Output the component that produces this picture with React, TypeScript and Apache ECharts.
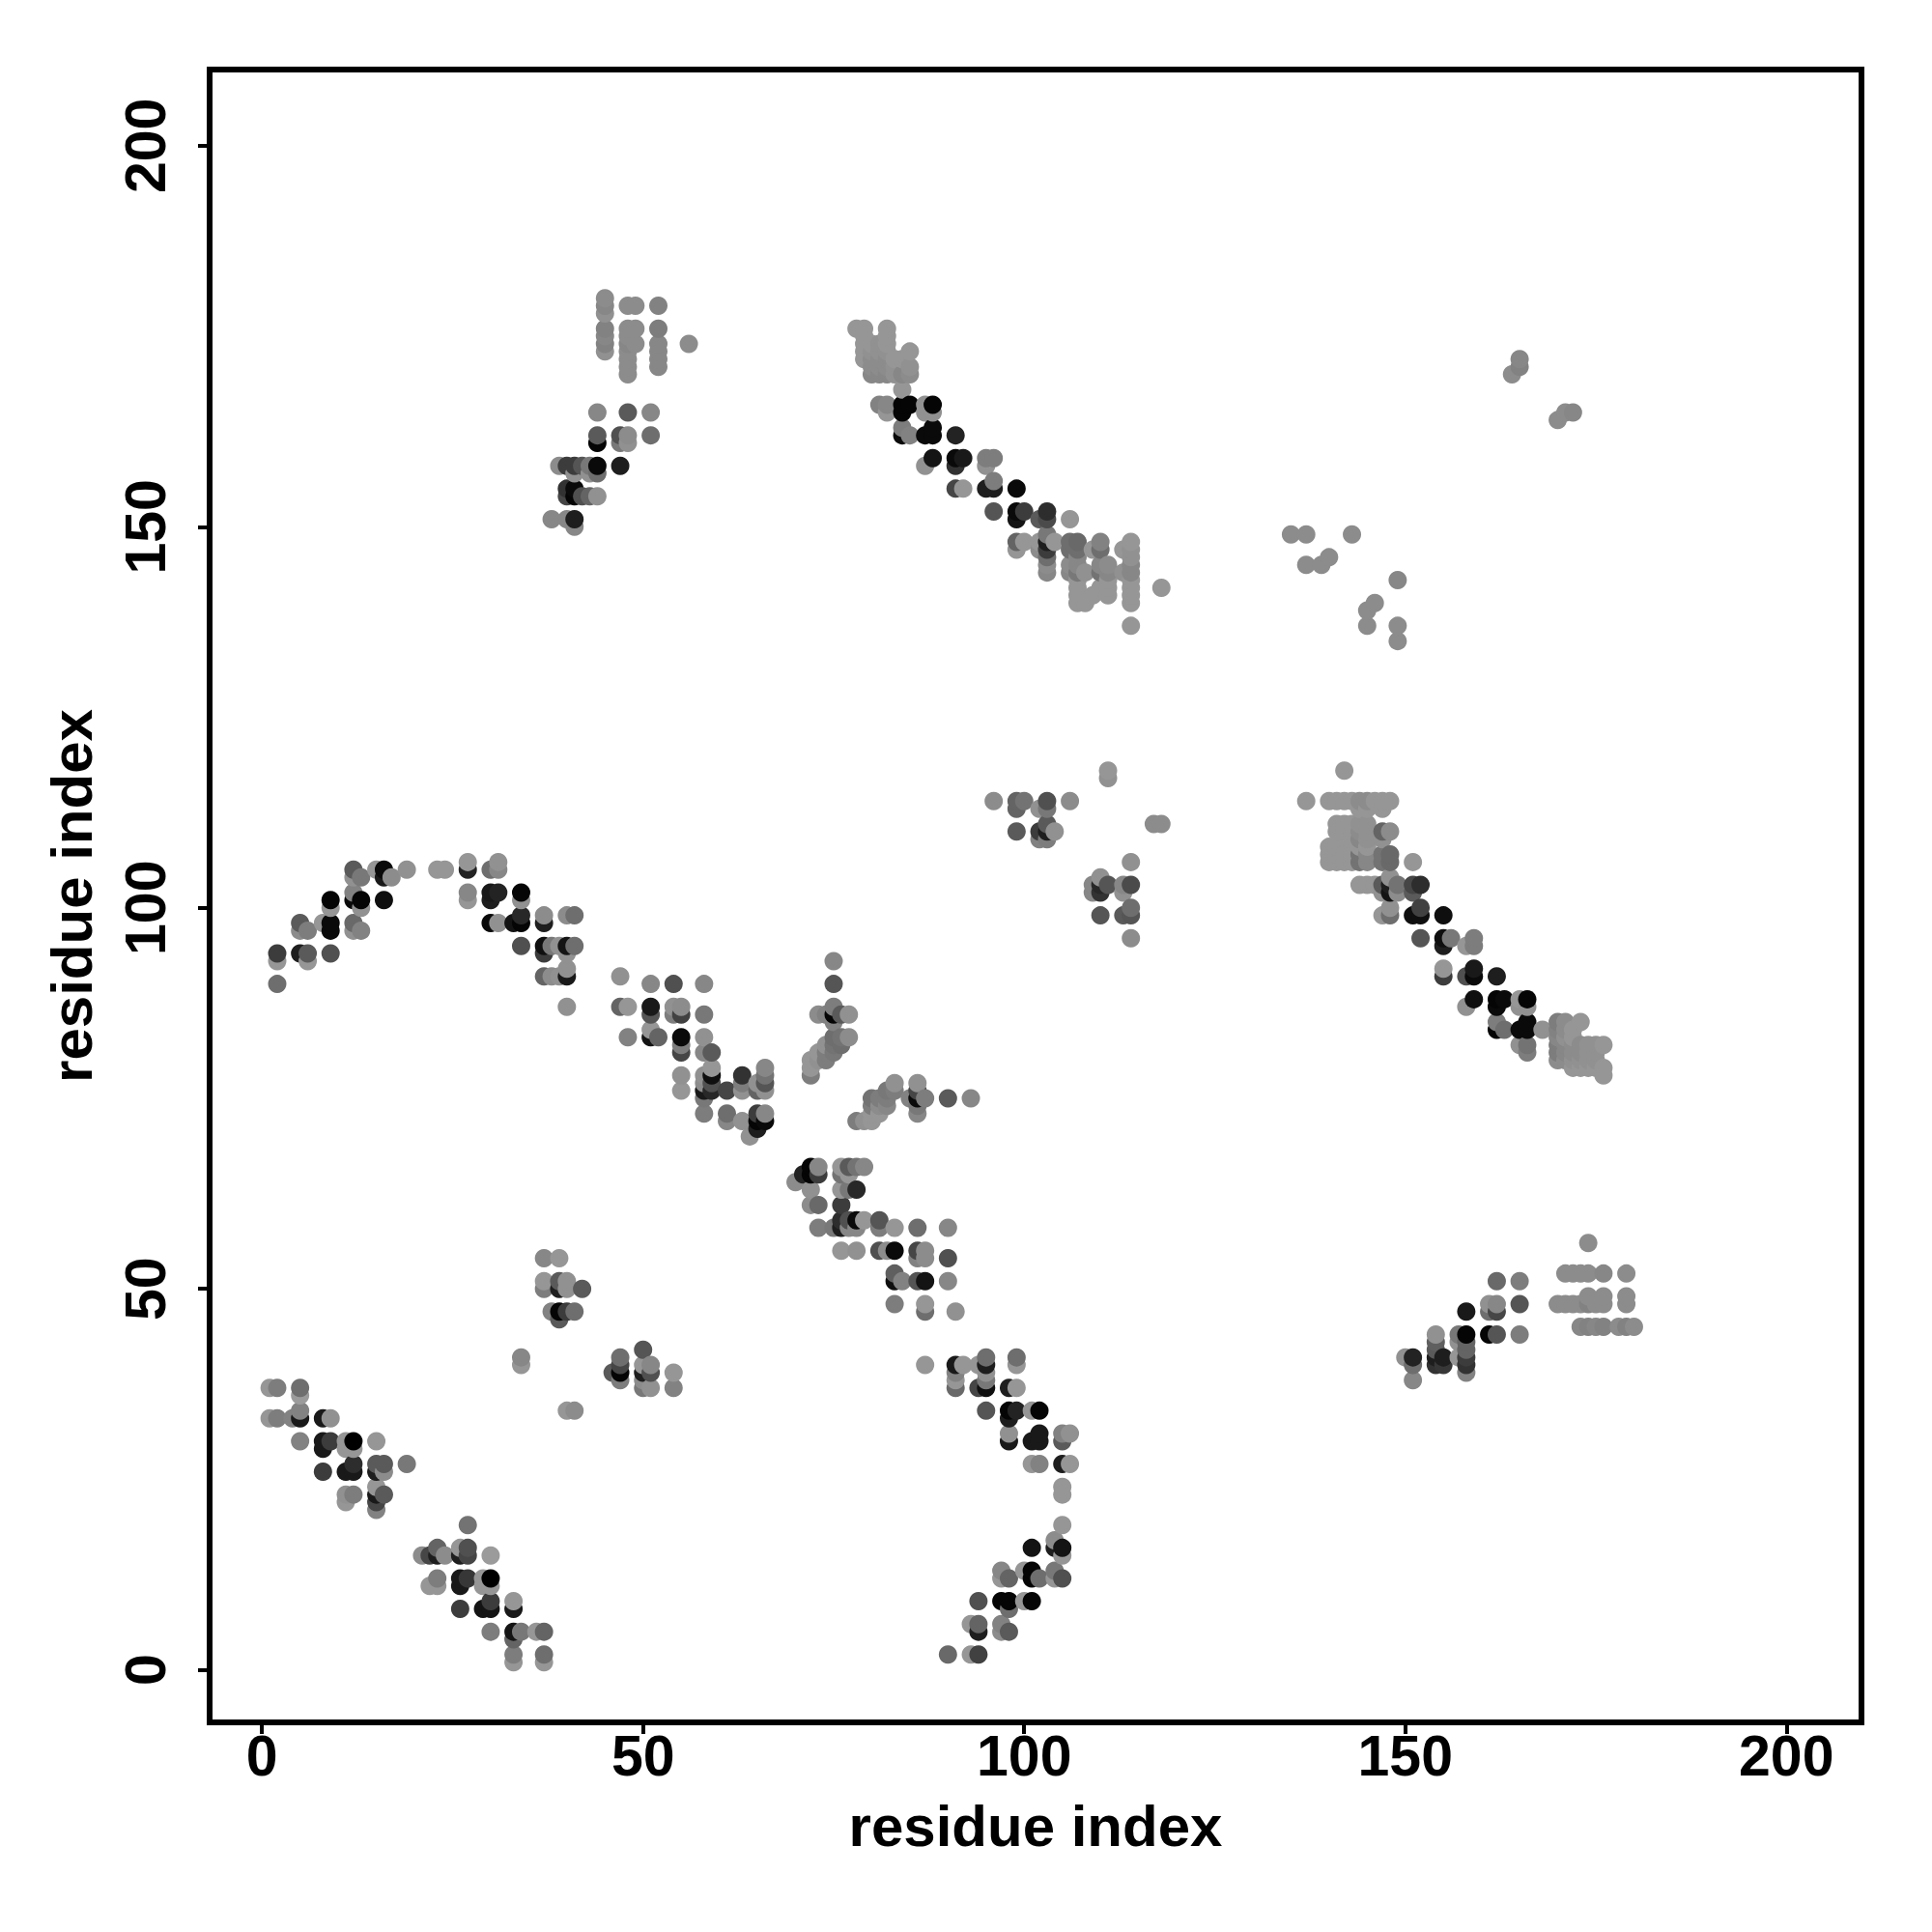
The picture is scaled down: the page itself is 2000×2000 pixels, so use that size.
import React, { useEffect, useRef } from "react";
import * as echarts from "echarts";

type P = [number, number, number];

const xTickValues = [0, 50, 100, 150, 200];
const yTickValues = [0, 50, 100, 150, 200];
const axisTitle = "residue index";

const helixA: P[] = [
[1,37,150],[2,37,125],[5,37,110],[5,36,155],[1,33,150],[2,33,125],[4,33,130],[5,33,25],[5,34,130],[8,33,25],[9,33,145],
[5,30,130],[8,30,25],[8,29,25],[9,30,60],[11,30,150],[11,29,150],[12,30,0],[12,29,150],[15,30,150],[8,26,60],[11,26,25],[12,26,25],[12,27,45],
[15,27,90],[15,26,30],[16,27,90],[16,26,140],[19,27,120],[11,23,145],[11,22,150],[12,23,125],[15,24,150],[15,23,25],[15,22,70],[15,21,130],[16,23,90],
[27,19,115],[21,15,140],[22,15,70],[23,15,30],[23,16,100],[24,15,140],[26,16,150],[26,15,30],[27,16,80],[27,15,70],[30,15,155],
[22,11,150],[23,11,150],[23,12,125],[26,12,25],[26,11,25],[27,12,55],[29,12,150],[29,11,150],[30,12,0],[30,11,150],
[26,8,60],[29,8,20],[30,8,20],[30,9,60],[33,9,150],[33,8,25],[30,5,125],[33,5,20],[33,4,100],[34,5,120],[36,5,150],[37,5,100],
[33,2,125],[33,1,150],[37,2,110],[37,1,150],
];
const patchB: P[] = [
[37,54,135],[39,54,150],[37,51,150],[37,50,125],[39,51,90],[39,50,30],[40,51,145],[40,50,145],[42,50,90],
[38,47,130],[39,47,5],[40,47,60],[41,47,110],[39,46,90],[34,41,135],[34,40,150],[40,34,150],[41,34,140],
[46,39,90],[47,41,110],[47,40,70],[47,39,5],[47,38,125],[50,42,85],[50,40,150],[50,39,30],[50,38,140],[50,37,120],
[51,40,135],[51,39,80],[51,37,145],[54,39,150],[54,37,130],
];
const curveC: P[] = [
[87,40,150],[91,40,25],[92,40,150],[91,39,130],[91,38,150],[91,37,105],[94,40,150],[95,41,110],[95,40,30],[95,39,145],[95,38,120],[94,37,70],[95,37,15],
[99,41,110],[99,40,150],[98,37,30],[99,37,150],[95,34,85],[98,34,5],[98,33,30],[99,34,35],[101,34,150],[102,34,5],
[98,31,145],[98,30,25],[101,30,25],[102,31,25],[102,30,25],[105,31,130],[105,30,90],[106,31,145],
[101,27,150],[102,27,130],[105,27,30],[106,27,150],[105,24,150],[105,23,150],[105,19,150],
[101,16,20],[104,17,140],[104,16,30],[105,16,20],[105,15,150],[97,13,135],[97,12,150],[98,12,100],[100,13,150],[101,13,5],[101,12,5],[102,12,110],
[104,13,120],[104,12,150],[105,12,80],[94,9,80],[97,9,5],[98,9,5],[98,8,110],[100,9,150],[101,9,5],
[93,6,150],[94,6,100],[94,5,30],[97,6,130],[97,5,140],[98,5,90],[90,2,105],[93,2,150],[94,2,65],
];
const stripD: P[] = [
[70,64,140],[71,65,35],[72,66,5],[72,65,5],[73,66,135],[73,65,60],[72,63,145],[72,61,140],[73,61,105],
[76,66,150],[76,65,115],[77,66,90],[77,65,150],[78,66,115],[79,66,135],[76,63,150],[77,63,120],[78,63,40],[76,61,60],
[73,58,125],[75,58,120],[76,59,45],[76,58,30],[77,59,80],[77,58,135],[78,59,10],[78,58,135],[79,59,150],
[81,59,85],[81,58,125],[83,58,150],[86,58,110],[90,58,135],[76,55,150],[78,55,145],[81,55,80],[82,55,140],[83,55,10],
[86,55,70],[86,54,130],[87,55,140],[87,54,140],[90,54,80],[83,52,95],[83,51,15],[84,51,130],[86,51,85],[87,51,20],[90,51,135],
[83,48,125],[87,48,150],[87,47,110],[91,47,145],
];
const stripE: P[] = [
[47,91,145],[51,90,135],[54,90,80],[58,90,135],[47,87,100],[48,87,150],[51,87,25],[51,86,85],[54,87,145],[54,86,125],[55,87,140],[55,86,65],[58,86,120],
[48,83,130],[51,84,150],[51,83,20],[52,83,100],[55,83,10],[55,82,125],[55,81,70],[58,83,145],[58,81,135],[59,81,90],
[55,78,145],[55,76,150],[58,78,145],[58,77,140],[58,76,25],[58,75,120],[59,79,150],[59,78,15],[59,77,80],[59,76,40],[61,76,70],
[63,78,50],[63,77,125],[63,76,145],[65,77,145],[65,76,100],[66,79,135],[66,78,115],[66,77,85],[66,76,145],
[58,73,125],[61,73,110],[61,72,135],[63,72,145],[65,73,60],[65,72,5],[65,71,30],[66,73,135],[66,72,10],[64,70,145],
];
const armF: P[] = [
[75,93,135],[75,90,85],[75,87,125],[73,86,140],[74,86,130],[75,86,5],[76,86,90],[77,86,145],[75,85,130],
[77,83,140],[76,83,115],[75,83,110],[76,82,110],[75,82,115],[75,81,120],[74,82,145],[74,81,125],[74,80,125],[73,81,150],[73,80,145],
[72,80,150],[72,79,150],[72,78,125],
[83,77,145],[83,76,125],[82,76,120],[81,75,125],[82,75,125],[80,75,115],[80,74,125],[81,74,140],[82,74,135],[78,72,125],[79,72,145],[80,72,150],[80,73,150],[81,73,150],
[86,77,145],[86,76,70],[85,75,130],[86,75,10],[87,75,125],[86,74,120],[86,73,135],[90,75,90],[93,75,135],
];
const arcG: P[] = [
[2,90,110],[2,93,150],[2,94,60],[5,94,30],[6,94,90],[6,93,150],[9,94,80],[5,98,90],[5,97,140],[6,97,125],[8,98,150],[9,98,10],[9,97,10],
[12,98,105],[12,97,145],[13,97,130],[9,101,5],[9,100,150],[12,102,130],[12,101,10],[13,101,5],[13,100,145],[16,101,15],
[12,105,90],[12,104,145],[13,104,120],[15,105,150],[16,105,10],[16,104,25],[17,104,140],[19,105,145],[23,105,150],[24,105,150],
[27,106,150],[27,105,35],[27,102,135],[27,101,150],[30,105,110],[31,106,145],[31,105,135],[30,102,25],[30,101,30],[31,102,35],[34,102,5],[34,101,145],
[30,98,10],[31,98,145],[33,98,20],[34,98,5],[34,99,40],[37,99,140],[37,98,30],[40,99,140],[41,99,110],
[34,95,80],[37,95,15],[37,94,60],[38,95,120],[39,95,145],[40,95,20],[41,95,110],[40,94,145],
[37,91,100],[38,91,140],[39,91,145],[40,91,25],[40,92,145],[40,87,145],
];
const bandH: P[] = [
[142,118,150],[137,114,150],[140,114,150],[141,114,150],[142,114,150],[143,114,150],[144,114,140],[145,114,140],[146,114,150],[147,114,150],[148,114,150],
[144,113,150],[145,113,150],[147,113,150],[141,111,150],[142,111,150],[143,111,150],[144,111,145],[145,111,145],
[141,110,150],[142,110,150],[143,110,150],[144,110,140],[145,110,145],[147,110,100],[148,110,140],[143,109,150],[144,109,135],[145,109,145],[147,109,145],
[140,108,150],[141,108,150],[144,108,150],[145,108,150],[140,107,150],[141,107,150],[142,107,150],[143,107,150],[144,107,115],[145,107,135],[147,107,115],[148,107,105],
[140,106,150],[141,106,150],[142,106,150],[143,106,150],[144,106,115],[145,106,135],[147,106,115],[148,106,105],[151,106,150],
[144,103,150],[145,103,150],[146,103,150],[147,103,90],[148,104,145],[148,103,30],[149,103,115],[147,102,145],[148,102,20],[149,102,140],
[151,103,70],[151,102,90],[152,103,45],[147,99,150],[148,100,145],[148,99,110],[151,99,15],[152,100,65],[152,99,15],[155,99,15],
[152,96,85],[155,96,15],[155,95,30],[156,96,120],[158,95,150],[159,96,125],[159,95,125],[155,92,150],[155,91,60],[158,91,80],[159,92,25],[159,91,10],[162,91,30],
[158,87,145],[159,88,15],[162,88,5],[162,87,10],[163,88,10],[165,88,150],[165,87,145],[166,88,5],[166,87,145],
[162,85,125],[162,84,5],[163,84,110],[165,84,10],[166,85,10],[166,84,10],[168,84,145],[165,82,145],[166,82,115],[166,81,125],
[170,85,125],[171,85,140],[173,85,150],[170,84,130],[171,84,140],[172,84,150],[170,83,135],[171,83,145],[172,83,150],
[170,82,125],[171,82,135],[172,82,140],[173,82,140],[174,82,145],[175,82,145],[176,82,150],
[170,81,125],[171,81,135],[172,81,140],[173,81,140],[174,81,145],[175,81,145],[170,80,140],[171,80,140],[172,80,145],[173,80,145],[174,80,145],[175,80,145],
[172,79,150],[173,79,150],[174,79,150],[175,79,150],[176,79,150],[176,78,150],
];
const patchI: P[] = [
[150,41,145],[151,41,35],[151,40,110],[151,38,135],[154,44,145],[154,43,95],[154,42,90],[154,41,30],[154,40,50],[155,41,30],[155,40,55],
[157,44,120],[157,43,145],[157,41,150],[158,47,25],[158,44,5],[158,43,100],[158,42,100],[158,41,60],[158,40,50],[158,39,130],
[161,48,145],[161,47,110],[162,48,135],[162,47,70],[162,51,105],[165,51,125],[165,48,85],[161,44,5],[162,44,85],[165,44,125],
[174,56,140],[171,52,140],[172,52,140],[173,52,140],[174,52,140],[176,52,135],[179,52,140],[174,49,140],[176,49,140],[179,49,140],
[170,48,140],[171,48,140],[172,48,140],[173,48,140],[174,48,130],[175,48,140],[176,48,140],[179,48,140],
[173,45,135],[174,45,130],[175,45,135],[176,45,130],[178,45,140],[179,45,130],[180,45,140],
];
const bandJ: P[] = [
[78,176,150],[79,176,150],[82,176,150],[79,175,150],[82,175,150],[79,174,150],[80,174,150],[81,174,145],[82,174,150],[79,173,150],[80,173,145],[81,173,145],[82,173,145],[85,173,150],
[79,172,150],[80,172,140],[81,172,140],[82,172,140],[83,172,150],[84,172,150],[80,171,140],[81,171,140],[82,171,140],[83,171,145],[85,171,145],
[80,170,135],[81,170,135],[82,170,135],[83,170,145],[84,170,135],[85,170,140],[84,168,150],
[81,166,130],[82,166,135],[82,165,150],[84,166,5],[85,166,5],[84,165,5],[87,166,145],[87,165,145],[88,166,5],[88,165,145],
[84,163,125],[84,162,10],[85,162,130],[87,162,10],[88,163,10],[88,162,10],[91,162,35],
[87,158,145],[88,159,20],[91,159,10],[91,158,50],[92,159,25],[95,159,125],[95,158,145],[96,159,125],
[91,155,70],[92,155,150],[95,155,30],[96,155,30],[96,156,125],[99,155,10],[96,152,85],[99,152,10],[99,151,20],[100,152,60],[102,151,90],[103,152,45],[103,151,75],[106,151,150],
[99,148,100],[100,148,150],[99,147,150],[102,148,150],[103,149,120],[103,148,30],[103,147,60],[102,147,140],[104,148,150],[103,146,110],[103,145,140],[103,144,135],
[106,148,110],[107,148,105],[106,147,110],[107,147,110],[107,146,135],[110,148,130],[110,147,110],[109,147,150],[106,145,140],[106,144,135],[107,145,135],[107,144,120],
[107,143,150],[107,142,150],[107,141,150],[107,140,150],[108,140,150],[108,144,145],[109,141,150],[110,144,115],[110,145,135],[110,142,150],[111,145,140],[111,144,135],[111,143,150],[111,142,150],[111,141,150],
[113,147,150],[114,148,150],[114,147,145],[114,146,145],[114,145,135],[114,144,135],[114,143,150],[114,142,150],[114,141,150],[114,140,150],[113,144,145],[114,137,150],[118,142,150],
];
const patchK: P[] = [
[45,180,140],[45,179,135],[45,178,145],[45,176,130],[45,175,135],[45,174,130],[45,173,145],
[48,179,140],[48,176,140],[48,175,140],[48,174,135],[48,173,140],[48,172,140],[48,171,140],[48,170,140],[49,179,140],[49,176,140],[49,174,140],
[52,179,130],[52,176,125],[52,174,135],[52,173,135],[52,172,135],[52,171,135],[56,174,140],
[44,165,135],[48,165,90],[51,165,135],[44,162,90],[44,161,5],[47,162,80],[47,161,120],[48,162,140],[48,161,145],[51,162,110],
[39,158,140],[40,158,60],[41,158,60],[42,158,85],[43,158,120],[44,158,10],[47,158,30],[41,157,145],[43,157,145],[44,157,110],
[40,155,50],[41,155,10],[40,154,70],[41,154,5],[42,154,80],[43,154,100],[44,154,145],[38,151,135],[40,151,135],[41,151,30],[41,150,135],
];
const patchL: P[] = [
[111,118,150],[111,117,145],[117,111,140],[118,111,140],[96,114,140],[99,114,100],[100,114,115],[99,113,100],[102,113,145],[103,114,80],[103,113,120],[106,114,140],
[99,110,90],[102,110,60],[102,109,130],[103,111,90],[103,110,30],[103,109,125],[104,110,145],
[114,106,145],[110,104,145],[109,103,135],[109,102,135],[110,103,40],[110,102,50],[111,103,85],[113,103,135],[113,102,145],[114,103,75],
[110,99,85],[113,99,90],[114,100,110],[114,99,85],[114,96,140],
];
const sparseM: P[] = [
[165,172,135],[165,171,130],[164,170,140],[170,164,140],[171,165,140],[172,165,135],
[135,149,140],[137,149,140],[137,145,140],[139,145,140],[140,146,140],[143,149,140],[149,143,135],[145,139,140],[146,140,140],[145,137,140],[149,137,140],[149,135,140],
];

const contacts: P[] = [
  ...helixA, ...patchB, ...curveC, ...stripD, ...stripE, ...armF, ...arcG,
  ...bandH, ...patchI, ...bandJ, ...patchK, ...patchL, ...sparseM,
].sort((a, b) => a[0] - b[0] || a[1] - b[1]);

const font = "Liberation Sans";

export default function App() {
  const ref = useRef<HTMLDivElement>(null);
  useEffect(() => {
    const chart = echarts.init(ref.current!, undefined, { renderer: "svg" });
    const base = {
      type: "value" as const,
      name: axisTitle,
      nameLocation: "middle" as const,
      nameTextStyle: { fontFamily: font, fontSize: 60, fontWeight: "bold" as const, color: "#000" },
      splitLine: { show: false },
      axisLine: { show: false, onZero: false },
    };
    chart.setOption({
      animation: false,
      backgroundColor: "#fff",
      grid: { left: 217, top: 72, width: 1710, height: 1711, show: true, borderColor: "#000", borderWidth: 6, backgroundColor: "transparent" },
      xAxis: {
        ...base,
        min: -6.87,
        max: 209.85,
        nameGap: 77,
        axisTick: { show: true, length: 12, lineStyle: { width: 4, color: "#000" }, customValues: xTickValues },
        axisLabel: { margin: 5, fontFamily: font, fontSize: 59, fontWeight: "bold", color: "#000", customValues: xTickValues, hideOverlap: false },
      },
      yAxis: {
        ...base,
        min: -6.9,
        max: 210.0,
        nameGap: 113,
        axisTick: { show: true, length: 12, lineStyle: { width: 4, color: "#000" }, customValues: yTickValues },
        axisLabel: { margin: 37, rotate: 90, fontFamily: font, fontSize: 59, fontWeight: "bold", color: "#000", customValues: yTickValues, hideOverlap: false },
      },
      series: [{
        type: "scatter",
        symbol: "circle",
        symbolSize: 19,
        clip: false,
        data: contacts.map((p) => ({
          value: [p[0], p[1]],
          itemStyle: { color: `rgb(${p[2]},${p[2]},${p[2]})`, opacity: 1 },
        })),
      }],
    });
    return () => chart.dispose();
  }, []);
  return <div ref={ref} style={{ position: "absolute", left: 0, top: 0, width: 2000, height: 2000 }} />;
}
